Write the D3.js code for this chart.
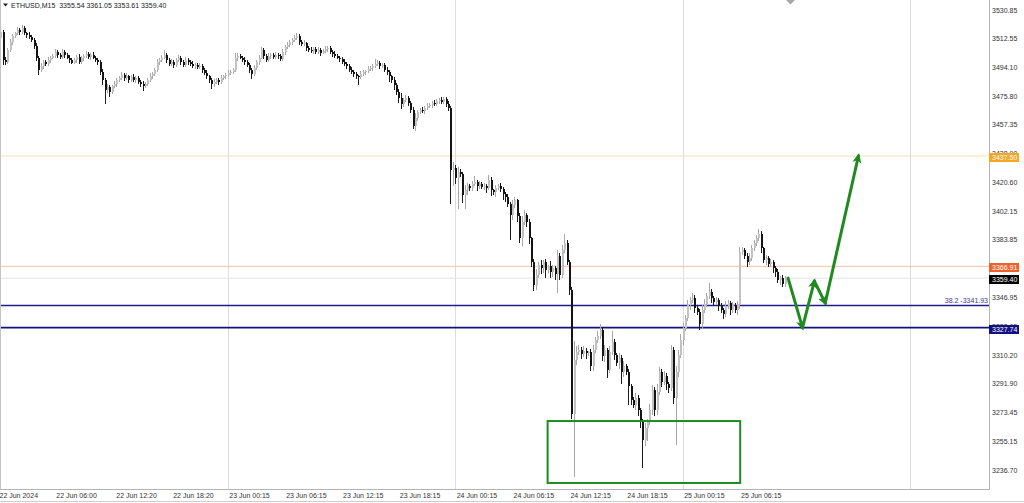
<!DOCTYPE html>
<html>
<head>
<meta charset="utf-8">
<script src="https://cdn.jsdelivr.net/npm/d3@7"></script>
<style>
  body { margin: 0; background: #fff; }
  svg { display: block; font-family: "Liberation Sans", Arial, sans-serif; }
</style>
</head>
<body>
<svg id="chart" width="1024" height="503"></svg>
<script>
// ---- data ----
var symbol = "ETHUSD,M15";
var lastOHLC = [3355.54, 3361.05, 3353.61, 3359.40];
var startTime = "2024-06-22 00:00";
var firstOpen = 3510.4;

var closes = [
  3512.9,3516.8,3498.9,3497.6,3505.3,3510.4,3514.2,3516.1,3518.1,3516.8,
  3519.3,3516.1,3514.9,3513.6,3511.7,3507.8,3500.2,3492.5,3495.0,3497.6,
  3496.3,3498.9,3500.2,3501.4,3504.0,3502.1,3500.8,3504.0,3502.1,3500.2,
  3498.9,3497.0,3498.9,3500.8,3497.6,3500.2,3501.4,3502.7,3500.8,3502.1,
  3500.2,3498.9,3497.6,3491.2,3486.1,3479.7,3481.6,3478.4,3482.2,3483.5,
  3486.1,3487.4,3489.3,3487.4,3488.6,3486.1,3488.0,3486.1,3487.4,3484.8,
  3483.5,3482.2,3483.5,3486.1,3488.6,3489.9,3492.5,3497.6,3498.9,3500.2,
  3502.1,3498.9,3496.3,3497.6,3495.7,3498.9,3500.2,3497.6,3495.7,3498.9,
  3497.6,3496.3,3495.0,3495.7,3494.4,3495.0,3492.5,3490.6,3488.6,3486.1,
  3483.5,3484.8,3486.1,3484.8,3487.4,3488.6,3489.3,3490.6,3491.2,3492.5,
  3500.2,3501.4,3500.2,3498.9,3497.6,3495.7,3492.5,3489.9,3493.8,3497.6,
  3500.2,3505.3,3501.4,3498.9,3501.4,3502.1,3500.8,3502.1,3501.4,3499.5,
  3504.0,3507.2,3508.5,3510.4,3511.7,3512.9,3514.2,3510.4,3509.1,3509.7,
  3506.6,3505.3,3504.6,3505.9,3504.0,3505.3,3503.4,3504.6,3505.9,3506.6,
  3504.0,3502.7,3501.4,3500.2,3499.5,3497.6,3496.3,3495.0,3492.5,3491.2,
  3489.9,3488.6,3488.0,3489.9,3491.2,3491.8,3493.1,3493.8,3495.0,3496.3,
  3497.0,3495.0,3495.7,3492.5,3491.2,3488.6,3486.1,3482.9,3478.4,3474.6,
  3470.7,3473.3,3474.6,3471.4,3466.9,3456.7,3461.8,3465.6,3466.9,3466.3,
  3468.2,3469.5,3470.1,3471.4,3470.7,3472.7,3473.3,3472.0,3473.9,3470.7,
  3468.2,3428.5,3429.8,3423.4,3427.3,3426.0,3412.5,3415.7,3418.3,3417.0,
  3419.6,3420.9,3418.3,3419.6,3417.7,3418.3,3417.0,3422.1,3415.7,3414.5,
  3417.0,3418.3,3416.4,3413.2,3411.3,3406.8,3399.8,3406.1,3409.3,3399.1,
  3385.0,3395.3,3399.8,3395.3,3385.0,3369.7,3355.0,3361.4,3367.8,3365.9,
  3369.7,3364.6,3367.1,3363.3,3365.9,3362.0,3373.5,3361.4,3377.4,3381.8,
  3369.7,3351.8,3272.5,3307.0,3312.1,3313.4,3310.9,3312.8,3311.5,3312.1,
  3303.2,3313.4,3319.8,3322.4,3326.2,3309.6,3313.4,3300.6,3312.1,3318.5,
  3310.2,3305.1,3308.3,3299.4,3303.2,3299.4,3290.4,3281.4,3278.2,3282.7,
  3275.1,3267.4,3255.9,3263.5,3267.4,3275.1,3287.8,3275.1,3286.6,3299.4,
  3293.0,3296.8,3291.7,3289.1,3313.4,3282.7,3299.4,3310.2,3319.8,3327.5,
  3333.9,3342.2,3345.4,3346.7,3340.3,3337.7,3330.0,3339.0,3342.8,3348.0,
  3350.5,3346.7,3344.1,3345.4,3341.6,3339.0,3336.4,3341.6,3343.5,3339.0,
  3342.2,3339.0,3342.8,3376.1,3377.4,3373.5,3369.7,3372.3,3378.6,3381.8,
  3385.0,3387.6,3378.6,3371.0,3372.3,3368.4,3369.7,3365.9,3363.3,3358.2,
  3359.5,3355.54,3359.40
];

// upper / lower shadow length of each candle, in dollars
var wickUp = [
  2,3,1,2,1,2,1,1,2,1,2,1,1,2,1,1,2,1,2,1,
  1,2,1,1,2,1,1,2,1,1,2,1,1,1,2,1,1,2,1,1,
  2,1,1,1,2,1,2,1,1,2,1,1,2,1,2,1,1,2,1,1,
  1,2,1,1,2,1,1,2,1,2,3,1,1,2,1,1,2,1,1,2,
  1,1,2,1,1,2,1,1,2,1,1,2,1,1,2,1,1,2,1,1,
  3,2,1,1,2,1,1,1,2,1,2,2,1,1,2,1,1,2,1,1,
  2,1,2,1,1,2,2,1,1,2,1,1,2,1,1,2,1,1,2,1,
  1,1,2,1,1,1,2,1,1,2,1,1,1,2,1,1,2,1,1,3,
  2,1,1,1,2,1,1,2,1,2,3,1,2,1,1,2,3,1,1,2,
  1,2,1,1,2,1,1,2,1,1,2,1,4,2,3,2,1,3,2,1,
  2,4,1,2,1,2,1,3,2,1,2,1,2,1,1,2,1,3,2,1,
  2,4,3,1,2,1,2,4,2,3,1,2,1,3,2,1,4,2,3,6,
  2,1,2,12,4,3,2,3,2,1,2,3,2,3,4,2,3,1,4,7,
  2,1,3,2,3,1,2,1,2,3,2,1,2,3,2,4,3,2,5,3,
  2,3,2,1,3,2,4,3,4,3,2,3,2,3,2,1,2,3,3,2,
  6,2,1,2,1,2,1,3,2,1,2,1,2,3,2,1,2,3,2,2,
  2,3,2,1,2,1,2,1,1,2,1,2,1.65
];
var wickDn = [
  1,2,3,2,1,1,2,1,1,2,1,1,2,1,1,2,2,3,1,2,
  1,1,2,1,1,2,1,1,2,1,2,1,1,2,1,1,2,1,1,2,
  1,1,2,2,3,9,2,3,1,1,2,1,1,2,1,2,1,1,2,1,
  2,3,1,1,1,2,1,1,2,1,1,2,1,1,2,1,1,2,1,1,
  2,1,1,2,1,1,2,1,2,2,3,2,1,2,1,1,2,1,1,1,
  1,2,1,1,2,1,2,3,1,1,2,1,2,1,1,2,1,1,2,1,
  1,2,1,1,2,1,1,2,1,1,2,1,1,2,1,1,2,1,1,2,
  1,2,1,1,2,1,1,2,1,1,2,2,5,1,1,2,1,1,2,1,
  1,2,1,1,2,4,2,3,2,3,3,2,1,2,2,2,3,2,1,1,
  2,1,1,2,1,1,2,1,1,2,2,22,10,4,20,2,5,9,3,2,
  2,1,3,2,1,2,3,1,4,2,3,1,2,4,3,2,16,3,2,4,
  3,5,2,3,4,3,4,3,2,4,3,5,2,4,3,4,12,3,2,2,
  2,3,3,40,3,2,3,2,4,2,3,3,2,2,2,3,4,5,2,2,
  3,2,4,8,3,2,12,3,2,3,4,4,18,4,8,2,3,4,3,2,
  3,2,4,3,2,4,30,3,2,3,2,2,3,2,3,2,4,3,2,2,
  2,3,2,2,3,2,3,2,2,3,2,2,3,3,2,2,3,2,2,2,
  2,2,3,2,3,2,2,3,3,2,3,2,1.93
];

var priceTicks = ["3530.85","3512.55","3494.10","3475.80","3457.35","3438.90","3420.60",
  "3402.15","3383.85","3365.40","3346.95","3328.65","3310.20","3291.90","3273.45",
  "3255.15","3236.70"];

var timeTicks = [
  ["22 Jun 2024", "2024-06-22 00:00"], ["22 Jun 06:00", "2024-06-22 06:00"],
  ["22 Jun 12:20", "2024-06-22 12:20"], ["22 Jun 18:20", "2024-06-22 18:20"],
  ["23 Jun 00:15", "2024-06-23 00:15"], ["23 Jun 06:15", "2024-06-23 06:15"],
  ["23 Jun 12:15", "2024-06-23 12:15"], ["23 Jun 18:15", "2024-06-23 18:15"],
  ["24 Jun 00:15", "2024-06-24 00:15"], ["24 Jun 06:15", "2024-06-24 06:15"],
  ["24 Jun 12:15", "2024-06-24 12:15"], ["24 Jun 18:15", "2024-06-24 18:15"],
  ["25 Jun 00:15", "2024-06-25 00:15"], ["25 Jun 06:15", "2024-06-25 06:15"]
];
var gridTimes = ["2024-06-23 00:15", "2024-06-24 00:15", "2024-06-25 00:15", "2024-06-26 00:15"];

// horizontal levels: price, line colour, width, label box colour (null = no box)
var levels = [
  [3437.50, "#f9dfb6", 1, "#f5a623"],
  [3366.91, "#f4c2ab", 1, "#f0622c"],
  [3359.40, "#e4e4e4", 1, "#000000"],
  [3341.93, "#1e1e8c", 1.6, null],
  [3327.74, "#12127f", 1.6, "#10107e"]
];
var fibText = "38.2 -3341.93";

// hand drawn projection (bar number, price) and the green box
var arrowPts = [[333.5, 3359.4], [339.6, 3327.7], [344.6, 3357.5], [349.2, 3343.5], [363.2, 3437.5]];
var boxBars = [232.0, 313.3];
var boxPrices = [3268.0, 3228.4];

// ---- layout ----
var W = 1024, H = 503, plotR = 989, plotB = 489;
var barPx = 2.369, x0 = -2.0, barMs = 15 * 60 * 1000;

var parse = d3.utcParse("%Y-%m-%d %H:%M");
var t0 = parse(startTime);
var barTime = function(k) { return new Date(t0.getTime() + k * barMs); };

var x = d3.scaleUtc()
    .domain([t0, barTime(400)])
    .range([x0, x0 + 400 * barPx]);

var y = d3.scaleLinear()
    .domain([3236.70, 3530.85])
    .range([470, 10]);

var svg = d3.select("#chart");

svg.append("rect").attr("width", W).attr("height", H).attr("fill", "#fff");

var plot = svg.append("g");

plot.append("clipPath").attr("id", "clip")
  .append("rect").attr("x", 0).attr("y", 0).attr("width", plotR).attr("height", plotB);

// vertical grid
plot.selectAll("line.grid")
    .data(gridTimes)
  .enter().append("line")
    .attr("class", "grid")
    .attr("x1", function(d) { return Math.round(x(parse(d))) + 0.5; })
    .attr("x2", function(d) { return Math.round(x(parse(d))) + 0.5; })
    .attr("y1", 0).attr("y2", plotB)
    .attr("stroke", "#dcdcdc").attr("stroke-width", 1);

// horizontal level lines
plot.selectAll("line.level")
    .data(levels)
  .enter().append("line")
    .attr("class", "level")
    .attr("x1", 0).attr("x2", plotR)
    .attr("y1", function(d) { return y(d[0]); })
    .attr("y2", function(d) { return y(d[0]); })
    .attr("stroke", function(d) { return d[1]; })
    .attr("stroke-width", function(d) { return d[2]; });

plot.append("text")
    .attr("x", plotR - 1).attr("y", y(3341.93) - 2)
    .attr("text-anchor", "end")
    .attr("font-size", 7).attr("fill", "#3a3a9c")
    .text(fibText);

// candles
var bars = closes.map(function(c, i) {
  var o = i === 0 ? firstOpen : closes[i - 1];
  return {
    t: barTime(i), open: o, close: c,
    high: Math.max(o, c) + wickUp[i],
    low: Math.min(o, c) - wickDn[i]
  };
});

var candles = plot.append("g")
    .attr("clip-path", "url(#clip)")
    .attr("shape-rendering", "crispEdges");

var cg = candles.selectAll("g.candle")
    .data(bars)
  .enter().append("g")
    .attr("class", "candle");

cg.append("line")
    .attr("x1", function(d) { return Math.round(x(d.t)) + 0.5; })
    .attr("x2", function(d) { return Math.round(x(d.t)) + 0.5; })
    .attr("y1", function(d) { return y(d.high); })
    .attr("y2", function(d) { return y(d.low); })
    .attr("stroke", function(d) { return d.close >= d.open ? "#a8a8a8" : "#1a1a1a"; });

cg.append("rect")
    .attr("x", function(d) { return Math.round(x(d.t)); })
    .attr("width", 2)
    .attr("y", function(d) { return y(Math.max(d.open, d.close)); })
    .attr("height", function(d) { return Math.max(1, Math.abs(y(d.open) - y(d.close))); })
    .attr("fill", function(d) { return d.close >= d.open ? "#c2c2c2" : "#141414"; });

// green box and arrows
var green = "#1f8a1f";
plot.append("rect")
    .attr("x", x(barTime(boxBars[0])))
    .attr("y", y(boxPrices[0]))
    .attr("width", x(barTime(boxBars[1])) - x(barTime(boxBars[0])))
    .attr("height", y(boxPrices[1]) - y(boxPrices[0]))
    .attr("fill", "none").attr("stroke", green).attr("stroke-width", 2);

svg.append("defs").append("marker")
    .attr("id", "head")
    .attr("viewBox", "0 0 10 10")
    .attr("refX", 7).attr("refY", 5)
    .attr("markerUnits", "userSpaceOnUse")
    .attr("markerWidth", 10).attr("markerHeight", 10)
    .attr("orient", "auto")
  .append("path")
    .attr("d", "M0,0.5 L10,5 L0,9.5 L2.5,5 Z")
    .attr("fill", green);

var segs = d3.pairs(arrowPts);
plot.selectAll("line.arrow")
    .data(segs)
  .enter().append("line")
    .attr("class", "arrow")
    .attr("x1", function(d) { return x(barTime(d[0][0])); })
    .attr("y1", function(d) { return y(d[0][1]); })
    .attr("x2", function(d) { return x(barTime(d[1][0])); })
    .attr("y2", function(d) { return y(d[1][1]); })
    .attr("stroke", green).attr("stroke-width", 3)
    .attr("stroke-linecap", "round")
    .attr("marker-end", "url(#head)");

// header
svg.append("path").attr("d", "M3,3.5 L8,3.5 L5.5,6.5 Z").attr("fill", "#222");
svg.append("text")
    .attr("x", 11).attr("y", 8)
    .attr("font-size", 7).attr("fill", "#222")
    .attr("xml:space", "preserve")
    .text(symbol + "  " + lastOHLC.map(function(v) { return v.toFixed(2); }).join(" "));

// shift marker
svg.append("path").attr("d", "M786,0 L795,0 L790.5,4.5 Z").attr("fill", "#a8a8a8");

// frame
svg.append("line").attr("x1", plotR + 0.5).attr("x2", plotR + 0.5).attr("y1", 0).attr("y2", plotB + 0.5)
    .attr("stroke", "#b4b4b4");
svg.append("line").attr("x1", 0).attr("x2", plotR + 0.5).attr("y1", plotB + 0.5).attr("y2", plotB + 0.5)
    .attr("stroke", "#b4b4b4");
svg.append("line").attr("x1", 0.5).attr("x2", 0.5).attr("y1", 0).attr("y2", plotB + 0.5)
    .attr("stroke", "#c4c4c4");
svg.append("line").attr("x1", 0).attr("x2", W).attr("y1", 501.5).attr("y2", 501.5)
    .attr("stroke", "#cfcfcf");

// price axis
svg.selectAll("text.ptick")
    .data(priceTicks)
  .enter().append("text")
    .attr("class", "ptick")
    .attr("x", plotR + 3)
    .attr("y", function(d) { return y(+d) + 2.5; })
    .attr("font-size", 7).attr("fill", "#333")
    .text(function(d) { return d; });

// time axis
svg.selectAll("text.ttick")
    .data(timeTicks)
  .enter().append("text")
    .attr("class", "ttick")
    .attr("x", function(d) { return x(parse(d[1])) + 1.5; })
    .attr("y", 498)
    .attr("font-size", 7).attr("fill", "#333")
    .text(function(d) { return d[0]; });

// price label boxes
var tags = svg.selectAll("g.tag")
    .data(levels.filter(function(d) { return d[3]; }))
  .enter().append("g")
    .attr("class", "tag");

tags.append("rect")
    .attr("x", plotR)
    .attr("y", function(d) { return Math.round(y(d[0])) - 3; })
    .attr("width", 30).attr("height", 9)
    .attr("fill", function(d) { return d[3]; });

tags.append("text")
    .attr("x", plotR + 3)
    .attr("y", function(d) { return Math.round(y(d[0])) + 4; })
    .attr("font-size", 7).attr("fill", "#fff")
    .text(function(d) { return d[0].toFixed(2); });
</script>
</body>
</html>
